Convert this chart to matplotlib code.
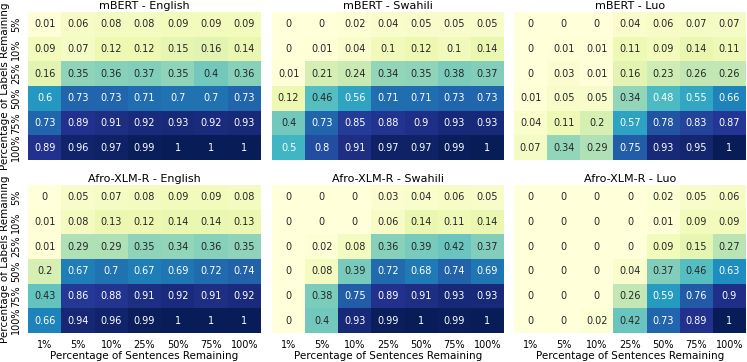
import numpy as np
import matplotlib
matplotlib.use("Agg")
import matplotlib.pyplot as plt
import seaborn as sns

sent_labels = ["1%", "5%", "10%", "25%", "50%", "75%", "100%"]
label_labels = ["5%", "10%", "25%", "50%", "75%", "100%"]

mbert_english = [
    [0.01, 0.06, 0.08, 0.08, 0.09, 0.09, 0.09],
    [0.09, 0.07, 0.12, 0.12, 0.15, 0.16, 0.14],
    [0.16, 0.35, 0.36, 0.37, 0.35, 0.4, 0.36],
    [0.6, 0.73, 0.73, 0.71, 0.7, 0.7, 0.73],
    [0.73, 0.89, 0.91, 0.92, 0.93, 0.92, 0.93],
    [0.89, 0.96, 0.97, 0.99, 1, 1, 1],
]
mbert_swahili = [
    [0, 0, 0.02, 0.04, 0.05, 0.05, 0.05],
    [0, 0.01, 0.04, 0.1, 0.12, 0.1, 0.14],
    [0.01, 0.21, 0.24, 0.34, 0.35, 0.38, 0.37],
    [0.12, 0.46, 0.56, 0.71, 0.71, 0.73, 0.73],
    [0.4, 0.73, 0.85, 0.88, 0.9, 0.93, 0.93],
    [0.5, 0.8, 0.91, 0.97, 0.97, 0.99, 1],
]
mbert_luo = [
    [0, 0, 0, 0.04, 0.06, 0.07, 0.07],
    [0, 0.01, 0.01, 0.11, 0.09, 0.14, 0.11],
    [0, 0.03, 0.01, 0.16, 0.23, 0.26, 0.26],
    [0.01, 0.05, 0.05, 0.34, 0.48, 0.55, 0.66],
    [0.04, 0.11, 0.2, 0.57, 0.78, 0.83, 0.87],
    [0.07, 0.34, 0.29, 0.75, 0.93, 0.95, 1],
]
afro_english = [
    [0, 0.05, 0.07, 0.08, 0.09, 0.09, 0.08],
    [0.01, 0.08, 0.13, 0.12, 0.14, 0.14, 0.13],
    [0.01, 0.29, 0.29, 0.35, 0.34, 0.36, 0.35],
    [0.2, 0.67, 0.7, 0.67, 0.69, 0.72, 0.74],
    [0.43, 0.86, 0.88, 0.91, 0.92, 0.91, 0.92],
    [0.66, 0.94, 0.96, 0.99, 1, 1, 1],
]
afro_swahili = [
    [0, 0, 0, 0.03, 0.04, 0.06, 0.05],
    [0, 0, 0, 0.06, 0.14, 0.11, 0.14],
    [0, 0.02, 0.08, 0.36, 0.39, 0.42, 0.37],
    [0, 0.08, 0.39, 0.72, 0.68, 0.74, 0.69],
    [0, 0.38, 0.75, 0.89, 0.91, 0.93, 0.93],
    [0, 0.4, 0.93, 0.99, 1, 0.99, 1],
]
afro_luo = [
    [0, 0, 0, 0, 0.02, 0.05, 0.06],
    [0, 0, 0, 0, 0.01, 0.09, 0.09],
    [0, 0, 0, 0, 0.09, 0.15, 0.27],
    [0, 0, 0, 0.04, 0.37, 0.46, 0.63],
    [0, 0, 0, 0.26, 0.59, 0.76, 0.9],
    [0, 0, 0.02, 0.42, 0.73, 0.89, 1],
]

panels = [
    ("mBERT - English", mbert_english),
    ("mBERT - Swahili", mbert_swahili),
    ("mBERT - Luo", mbert_luo),
    ("Afro-XLM-R - English", afro_english),
    ("Afro-XLM-R - Swahili", afro_swahili),
    ("Afro-XLM-R - Luo", afro_luo),
]

W, H = 747, 362
fig = plt.figure(figsize=(W / 100, H / 100), dpi=100)

# pixel boxes (left, right) for columns and (top, bottom) for rows
cols = [(28, 261), (272, 504), (514, 746)]
rows = [(12, 160), (185, 333)]
fs = 7

for i, (title, data) in enumerate(panels):
    r, c = divmod(i, 3)
    x0, x1 = cols[c]
    y0, y1 = rows[r]
    ax = fig.add_axes([x0 / W, 1 - y1 / H, (x1 - x0) / W, (y1 - y0) / H])
    sns.heatmap(np.array(data), ax=ax, cmap="YlGnBu", vmin=0, vmax=1,
                annot=True, fmt="g", cbar=False,
                annot_kws={"fontsize": fs},
                xticklabels=sent_labels, yticklabels=label_labels)
    ax.set_title(title, fontsize=8, pad=2)
    ax.tick_params(length=0, labelsize=fs, pad=5)
    if c == 0:
        ax.set_yticklabels(label_labels, rotation=90, va="center")
        ax.set_ylabel("Percentage of Labels Remaining", fontsize=7.5, labelpad=1)
    else:
        ax.set_yticks([])
    if r == 1:
        ax.set_xticklabels(sent_labels, rotation=0)
        ax.set_xlabel("Percentage of Sentences Remaining", fontsize=7.5, labelpad=1)
    else:
        ax.set_xticks([])

fig.savefig("out.png", dpi=100)
